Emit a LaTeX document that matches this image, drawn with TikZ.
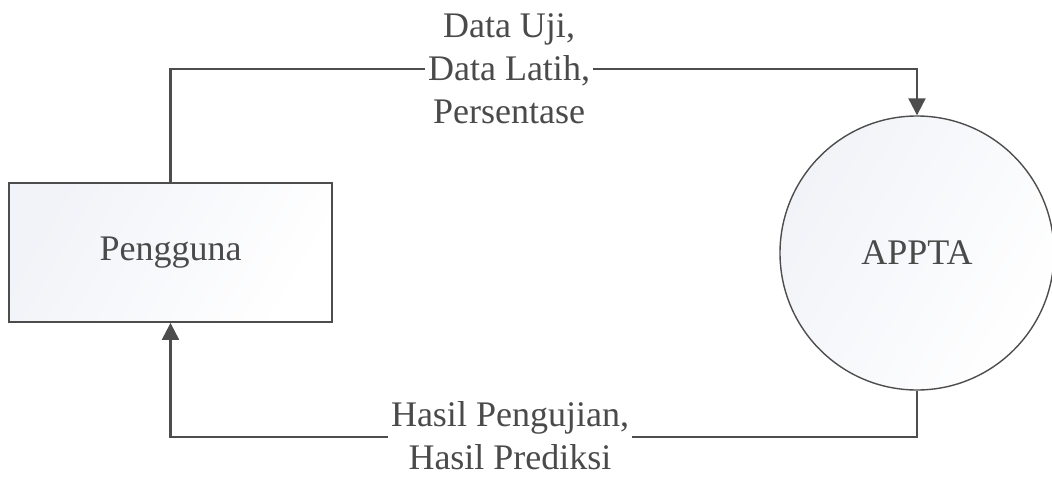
\documentclass[tikz,border=0pt]{standalone}
\usepackage{fontspec}
\setmainfont{Liberation Serif}
\usetikzlibrary{arrows.meta}
\definecolor{ln}{HTML}{4D4D4D}
\definecolor{tx}{HTML}{4A4A4A}
\definecolor{fl}{HTML}{F1F3F8}
\begin{document}
\begin{tikzpicture}[x=1pt,y=-1pt,
  every node/.style={font=\fontsize{36}{43}\selectfont, text=tx},
  entity/.style={draw=ln, line width=1.8pt, minimum width=323pt, minimum height=139pt,
    inner sep=0pt, left color=fl, right color=white, shading angle=60},
  proc/.style={circle, draw=ln, line width=1.4pt, minimum size=274pt, inner sep=0pt,
    left color=fl, right color=white, shading angle=60},
  flow/.style={draw=ln, line width=2.2pt, -{Triangle[width=17pt,length=17pt]}},
  lbl/.style={fill=white, align=center, inner sep=3pt}]
\useasboundingbox (0,0) rectangle (1052,477);
\node[entity] (user) at (170.5,252.5) {Pengguna};
\node[proc] (appta) at (917,253) {APPTA};
\coordinate (tl) at (170.5,69);
\coordinate (tr) at (917,69);
\coordinate (bl) at (170.5,437);
\coordinate (br) at (917,437);
\draw[flow] (user.north) -- (tl) -- (tr) -- (appta.north);
\draw[flow] (appta.south) -- (br) -- (bl) -- (user.south);
\node[lbl] (lin) at (509,69) {Data Uji,\\Data Latih,\\Persentase};
\node[lbl] (lout) at (510,436) {Hasil Pengujian,\\Hasil Prediksi};
\end{tikzpicture}
\end{document}
